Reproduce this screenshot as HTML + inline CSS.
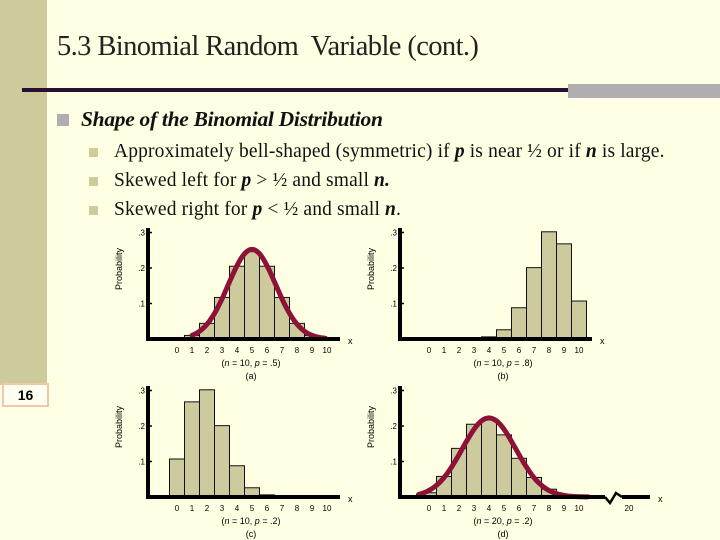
<!DOCTYPE html>
<html><head><meta charset="utf-8"><style>
body{margin:0;width:720px;height:540px;background:#ffffe3;position:relative;overflow:hidden;font-family:"Liberation Serif",serif}
.abs{position:absolute}
</style></head><body>
<div class="abs" style="left:0;top:0;width:47px;height:385px;background:#cdcb9c"></div>
<div class="abs" style="left:57px;top:31px;font-size:28.5px;color:#222;letter-spacing:-0.6px">5.3 Binomial Random&nbsp; Variable (cont.)</div>
<div class="abs" style="left:22px;top:88px;width:700px;height:4px;background:#2a1030"></div>
<div class="abs" style="left:568px;top:84px;width:152px;height:14px;background:#b0aeb0"></div>
<div class="abs" style="left:57px;top:107px;font-size:21.5px;font-weight:bold;font-style:italic;color:#111;letter-spacing:-0.3px"><span style="display:inline-block;width:12px;height:12px;background:#b0aeb0;margin-right:12px"></span>Shape of the Binomial Distribution</div>
<div class="abs" style="left:89px;top:137px;font-size:19.5px;color:#111;line-height:29px;letter-spacing:0.15px">
<div><span style="display:inline-block;width:9px;height:9px;background:#cfcc9c;margin-right:16px"></span>Approximately bell-shaped (symmetric) if <b><i>p</i></b> is near ½ or if <b><i>n</i></b> is large.</div>
<div><span style="display:inline-block;width:9px;height:9px;background:#cfcc9c;margin-right:16px"></span>Skewed left for <b><i>p</i></b> &gt; ½ and small <b><i>n.</i></b></div>
<div><span style="display:inline-block;width:9px;height:9px;background:#cfcc9c;margin-right:16px"></span>Skewed right for <b><i>p</i></b> &lt; ½ and small <b><i>n</i></b>.</div>
</div>
<div class="abs" style="left:2px;top:383px;width:43px;height:20px;background:#fffff0;border:2px solid #f0c8a8;font-family:'Liberation Sans',sans-serif;font-weight:bold;font-size:14px;text-align:center;line-height:20px">16</div>
<svg class="abs" style="left:0;top:0" width="720" height="540" id="svg"></svg>
<script>
const labels=["0","1","2","3","4","5","6","7","8","9","10"];
const yTicks=[0.1,0.2,0.3];
const yTickLabels=[".1",".2",".3"];
const probA=[0.001,0.010,0.044,0.117,0.205,0.246,0.205,0.117,0.044,0.010,0.001];
const probB=[0.000,0.000,0.000,0.001,0.006,0.026,0.088,0.201,0.302,0.268,0.107];
const probC=[0.107,0.268,0.302,0.201,0.088,0.026,0.006,0.001,0.000,0.000,0.000];
const probD=[0.012,0.058,0.137,0.205,0.218,0.175,0.109,0.055,0.022,0.007,0.002];
const captionsN=["10","10","10","20"];
const captionsP=[".5",".8",".2",".2"];
const letters=["a","b","c","d"];
const curveA={mean:5,sd:1.58,from:1,to:9.9};
const curveD={mean:4,sd:1.79,from:-0.7,to:10.6};
const NS="http://www.w3.org/2000/svg";
const svg=document.getElementById('svg');
function mk(t,a,p){const e=document.createElementNS(NS,t);for(const k in a)e.setAttribute(k,a[k]);(p||svg).appendChild(e);return e;}
const origins=[[148,339],[400,339],[148,497],[400,497]];
const datas=[probA,probB,probC,probD];
const curves=[curveA,null,null,curveD];
datas.forEach((d,i)=>{
  const [ox,oy]=origins[i];
  const g=mk('g',{});
  
  
  const xs=v=>ox+29+v*15, ys=v=>oy-v*355;
  d.forEach((v,k)=>{ if(v<=0.0005)return;
    const r=mk('rect',{x:xs(k)-7.5,y:ys(v),width:15,height:oy-ys(v),fill:'#cdcb9e',stroke:'#111','stroke-width':1},g);
    
    
  });
  const c=curves[i];
  if(c){let pts=[];for(let t=0;t<=60;t++){const x=c.from+(c.to-c.from)*t/60;const y=Math.exp(-0.5*((x-c.mean)/c.sd)**2)/(c.sd*Math.sqrt(2*Math.PI));pts.push(xs(x).toFixed(1)+','+ys(y).toFixed(1));}
    const pl=mk('polyline',{points:pts.join(' '),fill:'none',stroke:'#8e1238','stroke-width':5,'stroke-linecap':'round'},g);
    
    }
  const xEnd=i==3?ox+250:ox+192;
  mk('line',{x1:ox,y1:oy-111,x2:ox,y2:oy+1.5,stroke:'#000','stroke-width':4},g);
  if(i==3){mk('line',{x1:ox-2,y1:oy,x2:ox+205,y2:oy,stroke:'#000','stroke-width':4},g);
    mk('polyline',{points:`${ox+205},${oy} ${ox+210},${oy+6} ${ox+216},${oy-4} ${ox+222},${oy}`,fill:'none',stroke:'#000','stroke-width':2.5},g);
    mk('line',{x1:ox+222,y1:oy,x2:xEnd,y2:oy,stroke:'#000','stroke-width':4},g);
    const t20=mk('text',{x:ox+229,y:oy+14,'font-size':8,'font-family':'Liberation Sans, sans-serif','text-anchor':'middle'},g);t20.textContent='20';}
  else mk('line',{x1:ox-2,y1:oy,x2:xEnd,y2:oy,stroke:'#000','stroke-width':4},g);
  const xl=mk('text',{x:xEnd+8,y:oy+5,'font-size':9,'font-family':'Liberation Sans, sans-serif'},g);xl.textContent='x';
  yTicks.forEach((v,k)=>{mk('line',{x1:ox,y1:ys(v),x2:ox+4,y2:ys(v),stroke:'#000','stroke-width':1.5},g);
    const t=mk('text',{x:ox-3,y:ys(v)+3,'font-size':8,'font-family':'Liberation Sans, sans-serif','text-anchor':'end'},g);t.textContent=yTickLabels[k];});
  labels.forEach((l,k)=>{const t=mk('text',{x:xs(k),y:oy+14,'font-size':8,'font-family':'Liberation Sans, sans-serif','text-anchor':'middle'},g);t.textContent=l;});
  const yl=mk('text',{x:0,y:0,'font-size':9,'font-family':'Liberation Sans, sans-serif','text-anchor':'middle',transform:`translate(${ox-26},${oy-70}) rotate(-90)`},g);yl.textContent='Probability';
  const cap=mk('text',{x:ox+103,y:oy+27,'font-size':9,'font-family':'Liberation Sans, sans-serif','text-anchor':'middle'},g);
  cap.innerHTML=`(<tspan font-style="italic">n</tspan> = ${captionsN[i]}, <tspan font-style="italic">p</tspan> = ${captionsP[i]})`;
  const lt=mk('text',{x:ox+103,y:oy+40,'font-size':9,'font-family':'Liberation Sans, sans-serif','text-anchor':'middle'},g);lt.textContent='('+letters[i]+')';
});
</script>
</body></html>
